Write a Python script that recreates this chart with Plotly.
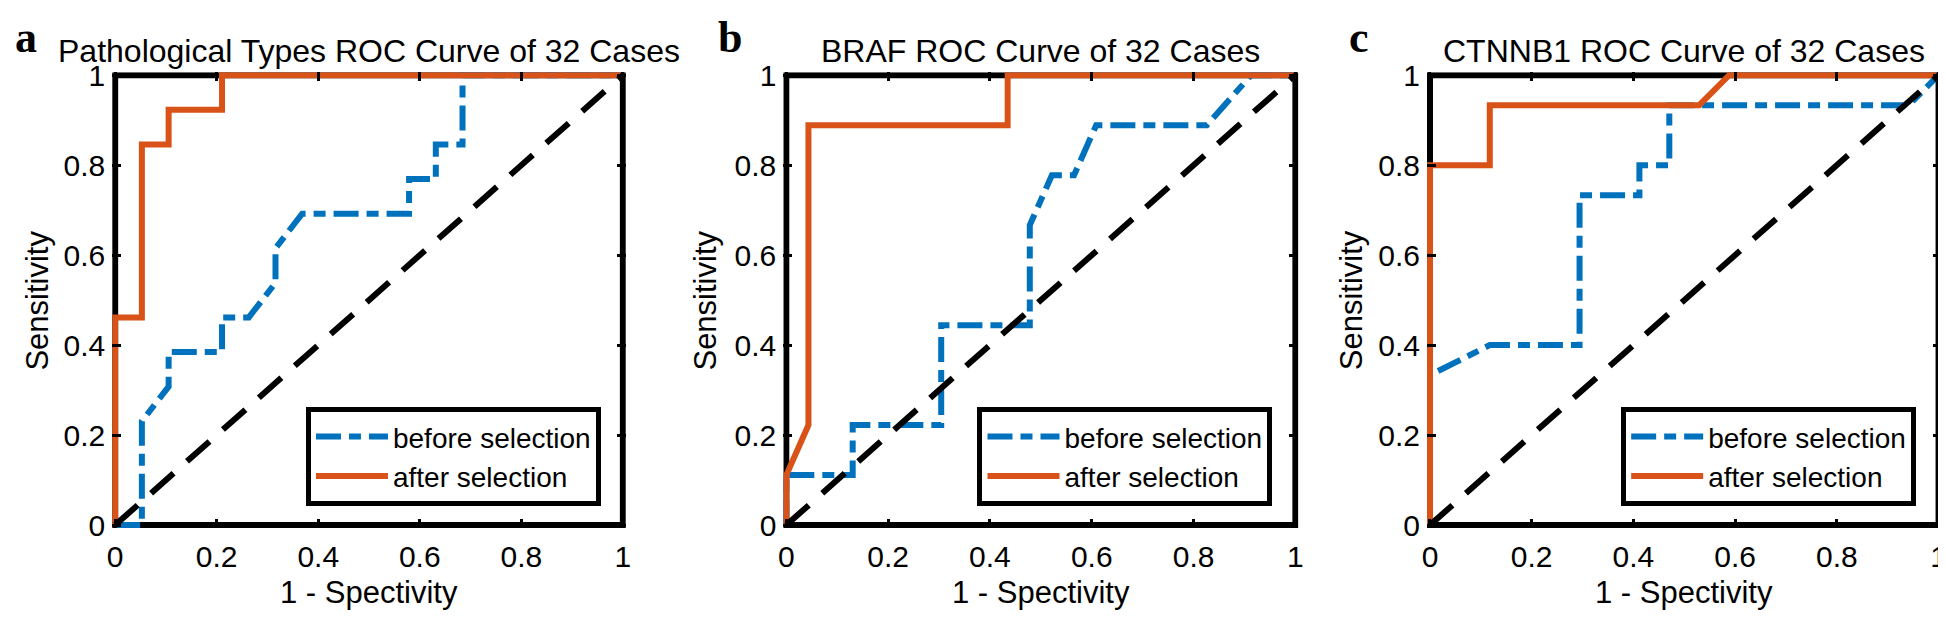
import plotly.graph_objects as go

# ---------------- data ----------------
titles = ["Pathological Types ROC Curve of 32 Cases",
          "BRAF ROC Curve of 32 Cases",
          "CTNNB1 ROC Curve of 32 Cases"]
panel_letters = ["a", "b", "c"]
series_names = ["before selection", "after selection"]
x_title = "1 - Spectivity"
y_title = "Sensitivity"
tick_vals = [0, 0.2, 0.4, 0.6, 0.8, 1]
tick_text = ["0", "0.2", "0.4", "0.6", "0.8", "1"]

# panel a (19 negatives, 13 positives)
a_before_x = [0, 0.0526, 0.0526, 0.1053, 0.1053, 0.2105, 0.2105, 0.2632, 0.3158, 0.3158,
              0.3684, 0.5789, 0.5789, 0.6316, 0.6316, 0.6842, 0.6842, 1]
a_before_y = [0, 0, 0.2308, 0.3077, 0.3846, 0.3846, 0.4615, 0.4615, 0.5385, 0.6154,
              0.6923, 0.6923, 0.7692, 0.7692, 0.8462, 0.8462, 1, 1]
a_after_x = [0, 0, 0.0526, 0.0526, 0.1053, 0.1053, 0.2105, 0.2105, 1]
a_after_y = [0, 0.4615, 0.4615, 0.8462, 0.8462, 0.9231, 0.9231, 1, 1]

# panel b (23 negatives, 9 positives)
b_before_x = [0, 0, 0.1304, 0.1304, 0.3043, 0.3043, 0.4783, 0.4783, 0.5217, 0.5652,
              0.6087, 0.8261, 0.9130, 1]
b_before_y = [0, 0.1111, 0.1111, 0.2222, 0.2222, 0.4444, 0.4444, 0.6667, 0.7778, 0.7778,
              0.8889, 0.8889, 1, 1]
b_after_x = [0, 0, 0.0435, 0.0435, 0.4348, 0.4348, 1]
b_after_y = [0, 0.1111, 0.2222, 0.8889, 0.8889, 1, 1]

# panel c (17 negatives, 15 positives)
c_before_x = [0, 0, 0.1176, 0.2941, 0.2941, 0.4118, 0.4118, 0.4706, 0.4706, 0.9412, 1]
c_before_y = [0, 0.3333, 0.4, 0.4, 0.7333, 0.7333, 0.8, 0.8, 0.9333, 0.9333, 1]
c_after_x = [0, 0, 0.1176, 0.1176, 0.5294, 0.5882, 1]
c_after_y = [0, 0.8, 0.8, 0.9333, 0.9333, 1, 1]

diag_x = [0, 1]
diag_y = [0, 1]

# ---------------- style / layout ----------------
W, H = 1946, 619
BLUE = "#0072BD"
ORANGE = "#D95319"
SANS = "Liberation Sans, Arial, sans-serif"
SERIF = "Liberation Serif, Times New Roman, serif"
FW = 6  # frame line width
LW = 6  # curve line width

frame_left = [102.7, 777.3, 1424.3]
frame_right = [613.0, 1289.0, 1935.5]
frame_top = 56.7
frame_bottom = 527.0
ylabel_x = [24.6, 696.0, 1345.0]
letter_x = [13.5, 721.0, 1353.0]
legend_right = [591.0, 1266.0, 1913.0]

panels = [
    (a_before_x, a_before_y, a_after_x, a_after_y),
    (b_before_x, b_before_y, b_after_x, b_after_y),
    (c_before_x, c_before_y, c_after_x, c_after_y),
]

fig = go.Figure()
layout = dict(
    width=W, height=H,
    margin=dict(l=0, r=0, t=0, b=0),
    paper_bgcolor="white", plot_bgcolor="white",
    font=dict(family=SANS, color="black"),
    annotations=[], shapes=[],
)

hpad = FW / 2.0
ydata_h = frame_bottom - frame_top
ypad = hpad / ydata_h
ydom = [(H - (frame_bottom + hpad)) / H, (H - (frame_top - hpad)) / H]

for i, (bx, by, ax_, ay) in enumerate(panels):
    n = "" if i == 0 else str(i + 1)
    xref = "x" + n
    yref = "y" + n
    leg = "legend" + n
    fig.add_trace(go.Scatter(x=bx, y=by, mode="lines", name=series_names[0],
                             line=dict(color=BLUE, width=LW, dash="25px,8px,12px,8px"),
                             xaxis=xref, yaxis=yref, legend=leg))
    fig.add_trace(go.Scatter(x=ax_, y=ay, mode="lines", name=series_names[1],
                             line=dict(color=ORANGE, width=LW),
                             xaxis=xref, yaxis=yref, legend=leg))
    fig.add_trace(go.Scatter(x=diag_x, y=diag_y, mode="lines", showlegend=False,
                             line=dict(color="black", width=LW, dash="30px,18px"),
                             xaxis=xref, yaxis=yref, legend=leg))

    xw = frame_right[i] - frame_left[i]
    xpad = hpad / xw
    xdom = [(frame_left[i] - hpad) / W, (frame_right[i] + hpad) / W]
    common = dict(tickvals=tick_vals, ticktext=tick_text, ticks="inside", ticklen=9,
                  tickwidth=3, tickcolor="black", mirror="allticks", showline=False,
                  showgrid=False, zeroline=False, fixedrange=True,
                  tickfont=dict(family=SANS, size=30, color="black"))
    layout["xaxis" + n] = dict(domain=xdom, range=[-xpad, 1 + xpad], anchor=yref,
                               ticklabelstandoff=8, **common)
    layout["yaxis" + n] = dict(domain=ydom, range=[-ypad, 1 + ypad], anchor=xref,
                               ticklabelstandoff=6, **common)

    # frame
    layout["shapes"].append(dict(type="rect", xref=xref, yref=yref, x0=0, x1=1, y0=0, y1=1,
                                 line=dict(color="black", width=FW), layer="between"))

    cx = (frame_left[i] + frame_right[i]) / 2.0
    # title
    layout["annotations"].append(dict(text=titles[i], xref="paper", yref="paper",
                                      x=cx / W, y=(H - 52.8) / H, xanchor="center",
                                      yanchor="bottom", showarrow=False,
                                      font=dict(family=SANS, size=32, color="black")))
    # x title
    layout["annotations"].append(dict(text=x_title, xref="paper", yref="paper",
                                      x=cx / W, y=(H - 598.0) / H, xanchor="center",
                                      yanchor="middle", showarrow=False,
                                      font=dict(family=SANS, size=31, color="black")))
    # y title
    layout["annotations"].append(dict(text=y_title, xref="paper", yref="paper",
                                      x=ylabel_x[i] / W,
                                      y=(H - (frame_top + frame_bottom) / 2.0) / H,
                                      xanchor="center", yanchor="middle", textangle=-90,
                                      showarrow=False,
                                      font=dict(family=SANS, size=31, color="black")))
    # panel letter
    layout["annotations"].append(dict(text=panel_letters[i], xref="paper", yref="paper",
                                      x=letter_x[i] / W, y=(H - 44.5) / H, xanchor="center",
                                      yanchor="bottom", showarrow=False,
                                      font=dict(family=SERIF, size=44, color="black",
                                                weight="bold")))
    # legend
    layout[leg] = dict(x=legend_right[i] / W, y=(H - 507.0) / H, xanchor="right",
                       yanchor="bottom", xref="paper", yref="paper",
                       bgcolor="white", bordercolor="black", borderwidth=5,
                       font=dict(family=SANS, size=28, color="black"),
                       itemwidth=72, tracegroupgap=0)

fig.update_layout(**layout)
fig.write_html("out.html")
